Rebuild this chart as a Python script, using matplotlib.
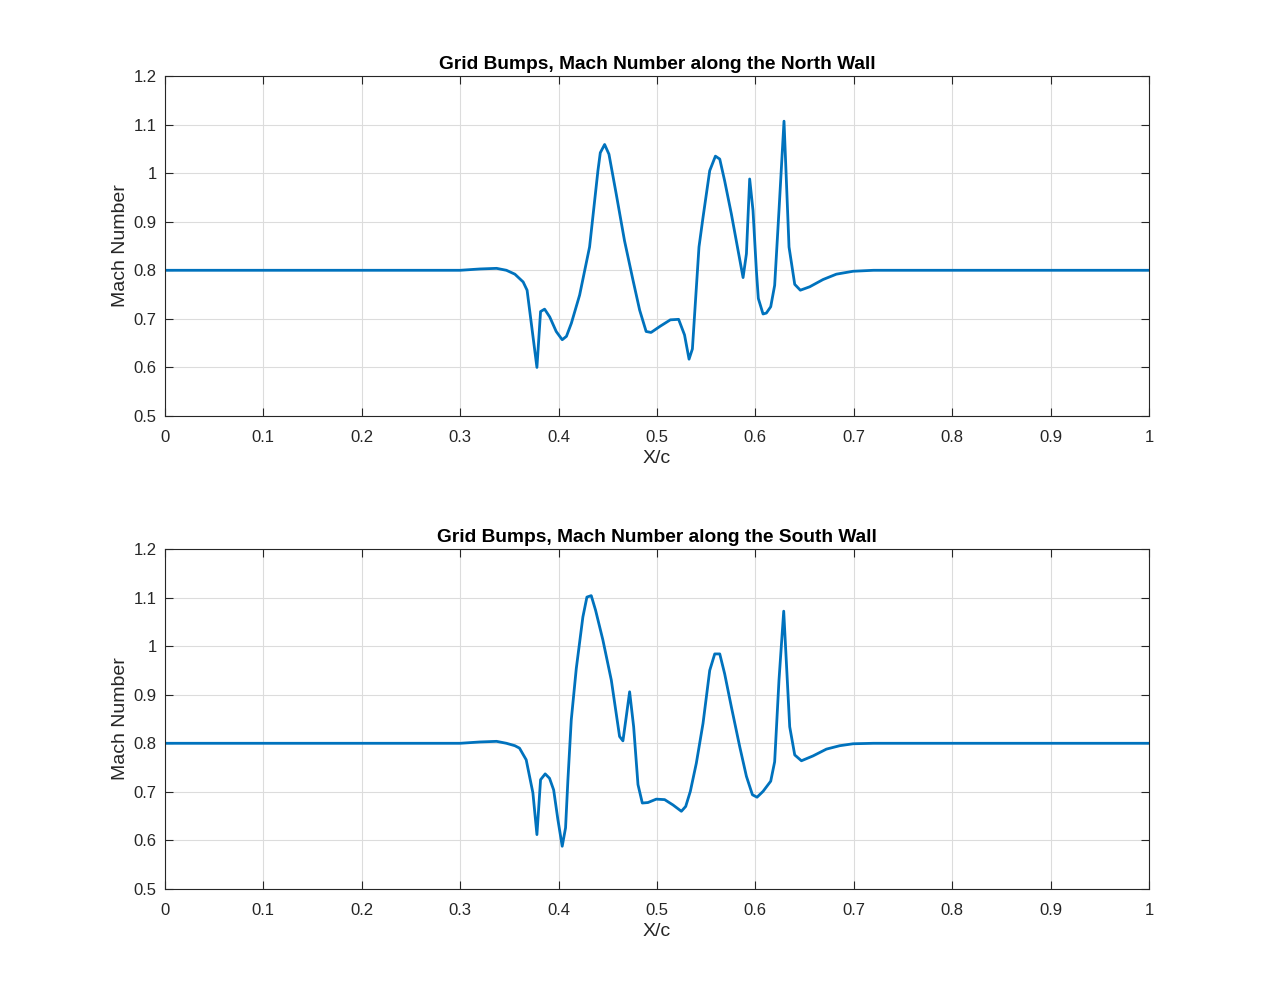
import matplotlib.pyplot as plt

# North wall Mach number
x_north = [0.0, 0.1, 0.2, 0.28, 0.3, 0.32, 0.337, 0.347, 0.3556, 0.364, 0.368,
           0.378, 0.3817, 0.3858, 0.391, 0.3976, 0.4037, 0.408, 0.413, 0.4214,
           0.4315, 0.44, 0.4424, 0.4468, 0.4512, 0.4586, 0.467, 0.4756, 0.4824,
           0.489, 0.494, 0.5034, 0.5136, 0.522, 0.528, 0.5326, 0.536, 0.5394,
           0.5427, 0.5468, 0.5536, 0.5594, 0.5638, 0.5688, 0.5756, 0.5824,
           0.5875, 0.5909, 0.5942, 0.5976, 0.601, 0.603, 0.6078, 0.6112, 0.6156,
           0.6196, 0.624, 0.6291, 0.6342, 0.64, 0.6457, 0.6552, 0.6688, 0.6823,
           0.6993, 0.72, 0.8, 0.9, 1.0]
m_north = [0.8, 0.8, 0.8, 0.8, 0.8, 0.8027, 0.804, 0.8, 0.792, 0.776, 0.759,
           0.6, 0.715, 0.72, 0.704, 0.674, 0.657, 0.664, 0.691, 0.749,
           0.848, 1.005, 1.042, 1.059, 1.039, 0.957, 0.861, 0.78, 0.718,
           0.674, 0.672, 0.685, 0.698, 0.699, 0.667, 0.617, 0.638, 0.745,
           0.848, 0.909, 1.005, 1.035, 1.029, 0.984, 0.916, 0.841,
           0.785, 0.834, 0.988, 0.923, 0.8, 0.742, 0.71, 0.712, 0.725,
           0.769, 0.923, 1.107, 0.848, 0.771, 0.759, 0.766, 0.781, 0.792,
           0.798, 0.8, 0.8, 0.8, 0.8]

# South wall Mach number
x_south = [0.0, 0.1, 0.2, 0.28, 0.3, 0.32, 0.337, 0.347, 0.3556, 0.3603, 0.3671,
           0.3739, 0.378, 0.3817, 0.3864, 0.3908, 0.395, 0.3993, 0.4037, 0.4071,
           0.4095, 0.4129, 0.418, 0.4247, 0.4288, 0.4332, 0.4376, 0.445, 0.4536,
           0.462, 0.4654, 0.4688, 0.4722, 0.4763, 0.4807, 0.4851, 0.4908, 0.4993,
           0.5078, 0.5163, 0.5248, 0.5292, 0.5339, 0.54, 0.5468, 0.5536, 0.5587,
           0.5638, 0.5688, 0.5756, 0.5841, 0.5909, 0.597, 0.6017, 0.6078, 0.6156,
           0.6196, 0.624, 0.6288, 0.6349, 0.64, 0.6468, 0.6586, 0.6722, 0.6857,
           0.6993, 0.72, 0.8, 0.9, 1.0]
m_south = [0.8, 0.8, 0.8, 0.8, 0.8, 0.8027, 0.804, 0.8, 0.795, 0.79, 0.766,
           0.698, 0.612, 0.725, 0.737, 0.728, 0.704, 0.643, 0.588, 0.626,
           0.725, 0.848, 0.954, 1.06, 1.101, 1.104, 1.074, 1.013, 0.93,
           0.814, 0.805, 0.855, 0.906, 0.834, 0.715, 0.677, 0.678, 0.685,
           0.684, 0.673, 0.66, 0.67, 0.701, 0.759, 0.841, 0.95, 0.984,
           0.984, 0.943, 0.875, 0.793, 0.732, 0.694, 0.689, 0.701, 0.722,
           0.762, 0.93, 1.072, 0.834, 0.776, 0.764, 0.774, 0.788, 0.795,
           0.799, 0.8, 0.8, 0.8, 0.8]

xticks = [0, 0.1, 0.2, 0.3, 0.4, 0.5, 0.6, 0.7, 0.8, 0.9, 1]
xlabels = ['0', '0.1', '0.2', '0.3', '0.4', '0.5', '0.6', '0.7', '0.8', '0.9', '1']
yticks = [0.5, 0.6, 0.7, 0.8, 0.9, 1.0, 1.1, 1.2]
ylabels = ['0.5', '0.6', '0.7', '0.8', '0.9', '1', '1.1', '1.2']

plt.rcParams['font.family'] = ['Liberation Sans', 'DejaVu Sans']

fig = plt.figure(figsize=(12.7, 10), dpi=100)
ax1 = fig.add_axes([0.1299, 0.584, 0.7748, 0.34])
ax2 = fig.add_axes([0.1299, 0.111, 0.7748, 0.34])

panels = [(ax1, x_north, m_north, 'Grid Bumps, Mach Number along the North Wall'),
          (ax2, x_south, m_south, 'Grid Bumps, Mach Number along the South Wall')]

for ax, xs, ms, title in panels:
    ax.plot(xs, ms, color='#0072BD', linewidth=2)
    ax.set_xlim(0, 1)
    ax.set_ylim(0.5, 1.2)
    ax.set_xticks(xticks)
    ax.set_xticklabels(xlabels)
    ax.set_yticks(yticks)
    ax.set_yticklabels(ylabels)
    ax.grid(True, color='#dcdcdc', linewidth=0.8)
    ax.set_axisbelow(True)
    ax.tick_params(direction='in', top=True, right=True, length=6,
                   labelsize=12, color='#262626', labelcolor='#262626')
    ax.tick_params(axis='x', pad=10)
    ax.tick_params(axis='y', pad=6)
    for s in ax.spines.values():
        s.set_color('#262626')
        s.set_linewidth(0.8)
    ax.set_xlabel('X/c', fontsize=14, color='#262626', labelpad=4)
    ax.set_ylabel('Mach Number', fontsize=14, color='#262626', labelpad=3)
    ax.set_title(title, fontsize=13.8, fontweight='bold', pad=5)

fig.savefig('out.png', dpi=100, facecolor='white')
